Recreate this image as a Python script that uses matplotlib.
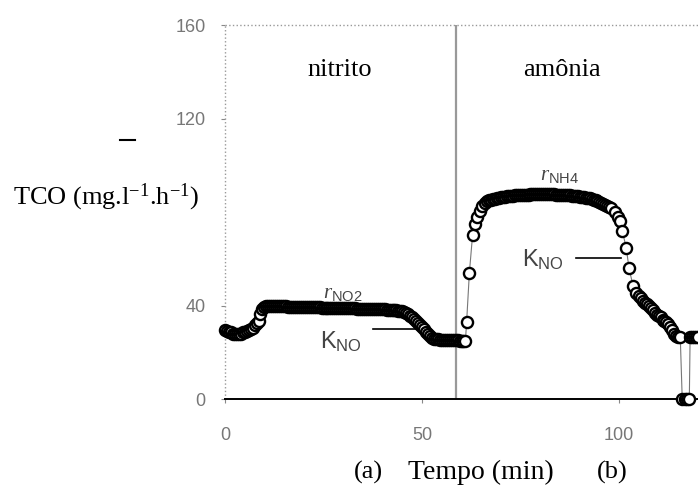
import matplotlib
matplotlib.use('Agg')
import matplotlib.pyplot as plt
from matplotlib.lines import Line2D

plt.rcParams['font.family'] = ['Liberation Serif', 'DejaVu Serif']
plt.rcParams['mathtext.fontset'] = 'custom'
plt.rcParams['mathtext.rm'] = 'Liberation Serif'
plt.rcParams['mathtext.it'] = 'Liberation Serif:italic'
plt.rcParams['mathtext.sf'] = 'Liberation Sans'

# TCO medida ao longo do ensaio: fase nitrito (a) e fase amônia (b)
tempo = [0, 0.5, 1, 1.5, 2, 2.5, 3, 3.5, 4, 4.5, 5, 5.5, 6, 6.5, 7, 7.5,
         8, 8.5, 9, 9.5, 10,
         10.5, 11, 11.5, 12, 12.5, 13, 13.5, 14, 14.5, 15, 15.5, 16, 16.5, 17, 17.5,
         18, 18.5, 19, 19.5, 20, 20.5, 21, 21.5, 22, 22.5, 23, 23.5, 24, 24.5, 25,
         25.5, 26, 26.5, 27, 27.5, 28, 28.5, 29, 29.5, 30, 30.5, 31, 31.5, 32, 32.5,
         33, 33.5, 34, 34.5, 35, 35.5, 36, 36.5, 37, 37.5, 38, 38.5, 39, 39.5, 40,
         40.5, 41, 41.5, 42, 42.5, 43, 43.5, 44, 44.5, 45,
         45.5, 46, 46.5, 47, 47.5, 48, 48.5, 49, 49.5, 50, 50.5, 51, 51.5, 52, 52.5,
         53, 53.5, 54, 54.5, 55, 55.5, 56, 56.5, 57, 57.5, 58, 58.5, 59, 59.5, 60,
         60.5, 61,
         61.3, 62, 62.8, 63.5, 64, 64.6, 65.2, 66, 66.5, 67, 67.5,
         68, 68.5, 69, 69.5, 70, 70.5, 71, 71.5, 72, 72.5, 73, 73.5, 74, 74.5, 75,
         75.5, 76, 76.5, 77, 77.5, 78, 78.5, 79, 79.5, 80, 80.5, 81, 81.5, 82, 82.5,
         83, 83.5, 84, 84.5, 85, 85.5, 86, 86.5, 87, 87.5, 88, 88.5, 89, 89.5, 90,
         90.5, 91, 91.5, 92, 92.5, 93, 93.5, 94, 94.5, 95, 95.5, 96, 96.5, 97, 97.5, 98,
         99, 99.7, 100.3, 100.8, 101.8, 102.5, 103.5, 104.3,
         105, 105.5, 106, 106.5, 107, 107.5, 108, 108.5, 109, 109.5, 110, 110.5,
         111, 111.5, 112, 112.5, 113, 113.5, 114, 114.5, 115, 115.5,
         116, 116.6, 117.2, 117.8, 118, 118.5, 119, 119.5, 120]
tco = [29.5, 29, 28.5, 28.5, 28, 28, 28, 28, 28, 28.5, 28.5, 29, 29.5, 30, 30.5, 31.5,
       32.5, 33.5, 36.5, 38.5, 39.5,
       39.8, 39.8, 39.8, 39.7, 39.7, 39.7, 39.7, 39.6, 39.6, 39.6, 39.6, 39.5, 39.5, 39.5, 39.5,
       39.5, 39.4, 39.4, 39.4, 39.4, 39.3, 39.3, 39.3, 39.3, 39.2, 39.2, 39.2, 39.2, 39.1, 39.1,
       39.1, 39.1, 39.0, 39.0, 39.0, 39.0, 39.0, 38.9, 38.9, 38.9, 38.9, 38.8, 38.8, 38.8, 38.8,
       38.8, 38.7, 38.7, 38.7, 38.7, 38.6, 38.6, 38.6, 38.6, 38.5, 38.5, 38.5, 38.4, 38.4, 38.3,
       38.3, 38.2, 38.2, 38.1, 38.0, 38.0, 37.9, 37.8, 37.7, 37.5,
       37.2, 36.8, 36.3, 35.7, 35.0, 34.3, 33.5, 32.7, 31.8, 30.8, 29.8, 28.7, 27.7, 26.8, 26.2,
       25.8, 25.6, 25.5, 25.4, 25.4, 25.3, 25.3, 25.2, 25.2, 25.2, 25.1, 25.1, 25.1, 25.0, 25.0,
       25.0, 25.0,
       33, 54, 70, 75, 78, 80.5, 82.5, 84, 84.5, 85, 85.3,
       85.5, 85.7, 85.9, 86.1, 86.3, 86.5, 86.6, 86.7, 86.8, 86.9, 87.0, 87.1, 87.2, 87.2, 87.3,
       87.3, 87.4, 87.4, 87.4, 87.5, 87.5, 87.5, 87.5, 87.5, 87.5, 87.5, 87.5, 87.5, 87.5, 87.5,
       87.5, 87.5, 87.4, 87.4, 87.4, 87.3, 87.3, 87.2, 87.2, 87.1, 87.0, 86.9, 86.8, 86.7, 86.6,
       86.5, 86.4, 86.2, 86.0, 85.8, 85.6, 85.3, 85.0, 84.7, 84.3, 83.9, 83.5, 83.0, 82.5, 82.0, 81.5,
       80, 78, 76, 72, 64.5, 56, 48.5, 45.5,
       44, 43, 42, 41, 40.5, 40, 39, 38, 37, 36, 35.5, 35,
       34, 33.5, 33, 32, 31, 29.5, 28, 27, 26.5, 26.5,
       0, 0, 0, 0, 26.5, 26.5, 26.5, 26.5, 26.5]

yticks = [0, 40, 120, 160]
xticks = [0, 50, 100]

fig = plt.figure(figsize=(6.98, 4.88), dpi=100)
ax = fig.add_axes([225 / 698, 89 / 488, 473 / 698, 374 / 488])
ax.set_xlim(0, 120)
ax.set_ylim(0, 160)
for s in ax.spines.values():
    s.set_visible(False)

# moldura do gráfico
ax.plot([0, 0], [0, 160], color='#999999', lw=1.0, ls=':', clip_on=False)
ax.plot([0, 120], [160, 160], color='#999999', lw=1.0, ls=':', clip_on=False)
ax.plot([0, 120], [0, 0], color='black', lw=1.4, clip_on=False)
ax.axvline(58.5, color='#999999', lw=1.6, zorder=1)

ax.plot(tempo, tco, color='#777777', lw=0.8, marker='o', ms=8, mfc='white',
        mec='black', mew=1.7, clip_on=False, zorder=3)

ax.set_yticks(yticks)
ax.set_xticks(xticks)
ax.tick_params(axis='both', length=3, color='#888888', labelcolor='#777777',
               labelsize=13)
ax.tick_params(axis='y', pad=11)
ax.tick_params(axis='x', pad=17)
for lab in ax.get_xticklabels() + ax.get_yticklabels():
    lab.set_family('Liberation Sans')

ax.text(29, 140.6, 'nitrito', fontsize=19, ha='center', va='center')
ax.text(85.6, 140.6, 'amônia', fontsize=19, ha='center', va='center')

ax.text(24.8, 45, r'$r_{\mathsf{NO2}}$', fontsize=15, color='#444444', va='center')
ax.text(80, 95.7, r'$r_{\mathsf{NH4}}$', fontsize=15, color='#444444', va='center')
ax.text(24, 24.4, r'$\mathsf{K}_{\mathsf{NO}}$', fontsize=17, color='#444444', va='center')
ax.text(75.4, 59.4, r'$\mathsf{K}_{\mathsf{NO}}$', fontsize=17, color='#444444', va='center')
ax.plot([37.5, 48.6], [30, 30], color='black', lw=1.2)
ax.plot([89, 100.5], [60.3, 60.3], color='black', lw=1.2)

fig.text(13 / 698, 1 - 197 / 488, r'TCO (mg.l$^{\mathrm{-1}}$.h$^{\mathrm{-1}}$)',
         fontsize=19, ha='left', va='center')
fig.text(368 / 698, 1 - 472 / 488, '(a)', fontsize=19, ha='center', va='center')
fig.text(481 / 698, 1 - 472 / 488, 'Tempo (min)', fontsize=20, ha='center', va='center')
fig.text(612 / 698, 1 - 472 / 488, '(b)', fontsize=19, ha='center', va='center')
fig.add_artist(Line2D([120 / 698, 135 / 698], [1 - 140 / 488, 1 - 140 / 488],
                      color='black', lw=1.5))

fig.savefig('out.png', dpi=100)
